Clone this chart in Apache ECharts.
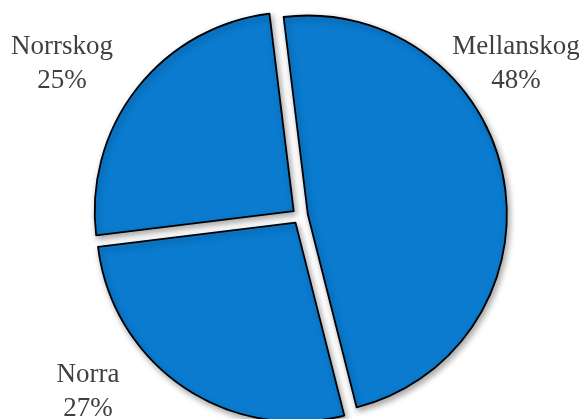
<!DOCTYPE html>
<html>
<head>
<meta charset="utf-8">
<script src="https://cdn.jsdelivr.net/npm/echarts@6/dist/echarts.min.js"></script>
<style>
html,body{margin:0;padding:0;background:#fff;}
#chart{width:579px;height:419px;}
</style>
</head>
<body>
<div id="chart"></div>
<script>
var categories = ['Mellanskog', 'Norra', 'Norrskog'];
var values = [48, 27, 25];

var labelSpots = [[516, 64], [88, 392], [62, 64]];

var chart = echarts.init(document.getElementById('chart'), null, {renderer: 'canvas'});
var data = categories.map(function (c, i) {
  return {name: c, value: values[i], selected: true};
});
var sliceStyle = {
  color: '#0a7bcf',
  borderColor: '#000000',
  borderWidth: 1.8,
  shadowBlur: 6,
  shadowColor: 'rgba(0,0,0,0.35)',
  shadowOffsetX: 2,
  shadowOffsetY: 3
};
var labels = categories.map(function (c, i) {
  return {
    type: 'text',
    x: labelSpots[i][0],
    y: labelSpots[i][1],
    style: {
      text: c + '\n' + values[i] + '%',
      fill: '#404040',
      font: '27px "Liberation Serif", "Times New Roman", serif',
      lineHeight: 34,
      align: 'center',
      verticalAlign: 'middle'
    }
  };
});
chart.setOption({
  animation: false,
  backgroundColor: '#ffffff',
  graphic: labels,
  series: [{
    type: 'pie',
    center: [300, 216],
    radius: [0, 199],
    startAngle: 97,
    clockwise: true,
    selectedMode: 'multiple',
    selectedOffset: 8,
    avoidLabelOverlap: false,
    data: data,
    itemStyle: sliceStyle,
    select: {itemStyle: sliceStyle},
    emphasis: {disabled: true},
    label: {show: false},
    labelLine: {show: false}
  }]
});
</script>
</body>
</html>
